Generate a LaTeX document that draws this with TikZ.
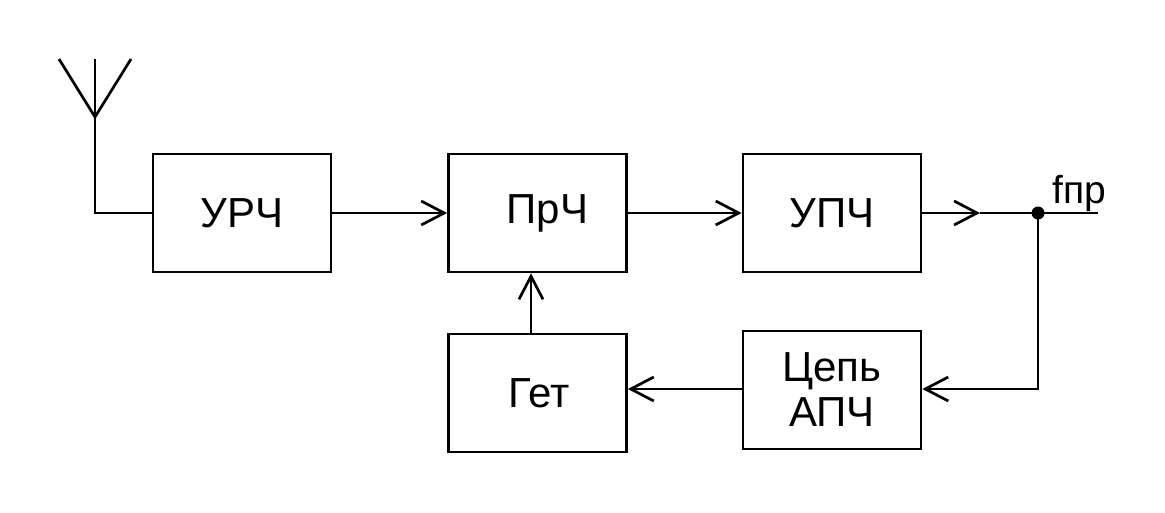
\documentclass[tikz,border=0pt]{standalone}
\usepackage{fontspec}
\setmainfont{Liberation Sans}
\usetikzlibrary{arrows.meta}

\tikzset{
  blk/.style={draw, line width=2.7pt, minimum width=178pt, minimum height=118pt,
    inner sep=0pt, font=\fontsize{42}{45}\selectfont, align=center},
  arr/.style={-{Straight Barb[length=23pt,width=24pt,line width=2.7pt]}},
}

\begin{document}
\begin{tikzpicture}[x=1pt,y=-1pt,line width=2.7pt]
	\useasboundingbox (0,0) rectangle (1165,512);
	%Blocks
      \node[blk] (urch) at (242,213) {УРЧ};
      \node[blk] (prch) at (537.5,213) {\hspace*{20pt}ПрЧ};
      \node[blk] (upch) at (832,213) {УПЧ};
      \node[blk] (get) at (537.5,393) {\hspace*{3pt}Гет};
      \node[blk] (apch) at (832,390) {Цепь\\АПЧ};
      
      %Antenna
      \coordinate (ant) at (95,117);
      \draw (95,59) -- (ant);
      \draw (59,59) -- (ant) -- (131,59);
      \draw (ant) -- (95,213) -- (urch.west);
      
      %Connectors
      \draw[arr] (urch.east) -- (prch.west);
      \draw[arr] (prch.east) -- (upch.west);
      \coordinate (tip) at (980,213);
      \coordinate (jn) at (1038,213);
      \coordinate (out) at (1098,213);
      \draw[arr] (upch.east) -- (tip);
      \draw (tip) -- (out);
      \fill (jn) circle (6.5pt);
      \node[anchor=base west, inner sep=0pt, font=\fontsize{39}{40}\selectfont] (lbl) at (1051,203) {fпр};
      \draw[arr] (jn) -- (1038,389) -- (apch.east |- 0,389);
      \draw[arr] (apch.west |- 0,389) -- (get.east |- 0,389);
      \draw[arr] (get.north -| 531,0) -- (prch.south -| 531,0);
      
\end{tikzpicture}
\end{document}
